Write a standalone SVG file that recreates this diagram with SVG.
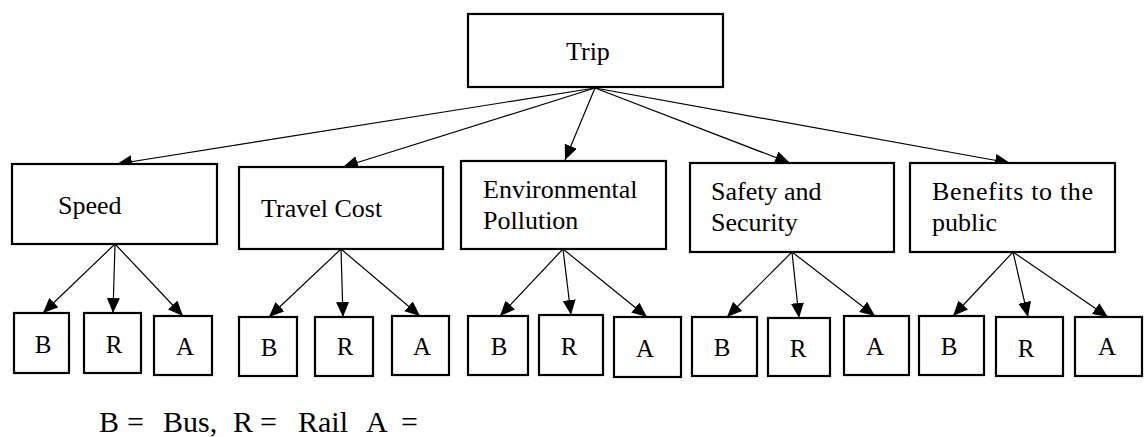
<svg xmlns="http://www.w3.org/2000/svg" width="1144" height="437" viewBox="0 0 1144 437">
<defs>
<style>
.box{fill:#fff;stroke:#000;stroke-width:2.2}
text{font-family:"Liberation Serif","Times New Roman",serif;fill:#000}
.lbl{font-size:26px}
.sm{font-size:25px;text-anchor:middle}
.leg{font-size:30px}
.con line{stroke:#000;stroke-width:1.2;marker-end:url(#ah)}
</style>
<marker id="ah" markerUnits="userSpaceOnUse" markerWidth="16" markerHeight="14" refX="15" refY="6.5" orient="auto">
<path d="M0,0 L15,6.5 L0,13 z" fill="#000"/>
</marker>
</defs>
<rect width="1144" height="437" fill="#fff"/>

<g id="connectors" class="con">
<line x1="595" y1="88" x2="117" y2="164"/>
<line x1="595" y1="88" x2="343" y2="167"/>
<line x1="595" y1="88" x2="565" y2="160"/>
<line x1="595" y1="88" x2="790" y2="163"/>
<line x1="595" y1="88" x2="1010" y2="163"/>
<line x1="115" y1="244" x2="43" y2="313"/>
<line x1="115" y1="244" x2="113" y2="313"/>
<line x1="115" y1="244" x2="183" y2="316"/>
<line x1="341" y1="249" x2="269" y2="317"/>
<line x1="341" y1="249" x2="343" y2="317"/>
<line x1="341" y1="249" x2="420" y2="316"/>
<line x1="563" y1="249" x2="500" y2="316"/>
<line x1="563" y1="249" x2="571" y2="315"/>
<line x1="563" y1="249" x2="647" y2="317"/>
<line x1="792" y1="252" x2="727" y2="317"/>
<line x1="792" y1="252" x2="799" y2="318"/>
<line x1="792" y1="252" x2="875" y2="316"/>
<line x1="1013" y1="252" x2="953" y2="316"/>
<line x1="1013" y1="252" x2="1028" y2="317"/>
<line x1="1013" y1="252" x2="1108" y2="317"/>
</g>

<g id="trip"><rect class="box" x="468" y="14" width="255" height="73"/><text class="lbl" x="566" y="60">Trip</text></g>
<g id="speed"><rect class="box" x="12" y="164" width="205" height="80"/><text class="lbl" x="58" y="214">Speed</text></g>
<g id="travel-cost"><rect class="box" x="239" y="167" width="204" height="82"/><text class="lbl" x="261" y="217">Travel Cost</text></g>
<g id="environmental-pollution"><rect class="box" x="461" y="161" width="205" height="88"/><text class="lbl" x="483" y="198">Environmental</text><text class="lbl" x="483" y="229">Pollution</text></g>
<g id="safety-security"><rect class="box" x="690" y="163" width="204" height="89"/><text class="lbl" x="711" y="200">Safety and</text><text class="lbl" x="711" y="231">Security</text></g>
<g id="benefits"><rect class="box" x="910" y="163" width="205" height="89"/><text class="lbl" x="932" y="200" textLength="161" lengthAdjust="spacing">Benefits to the</text><text class="lbl" x="932" y="231">public</text></g>

<g id="speed-b"><rect class="box" x="14" y="313" width="55" height="60"/><text class="sm" x="43" y="353">B</text></g>
<g id="speed-r"><rect class="box" x="84" y="313" width="57" height="60"/><text class="sm" x="114" y="353">R</text></g>
<g id="speed-a"><rect class="box" x="154" y="316" width="58" height="59"/><text class="sm" x="185" y="355">A</text></g>

<g id="travel-b"><rect class="box" x="239" y="317" width="58" height="59"/><text class="sm" x="269" y="356">B</text></g>
<g id="travel-r"><rect class="box" x="315" y="317" width="58" height="59"/><text class="sm" x="345" y="355">R</text></g>
<g id="travel-a"><rect class="box" x="392" y="316" width="57" height="59"/><text class="sm" x="422" y="355">A</text></g>

<g id="env-b"><rect class="box" x="468" y="316" width="60" height="59"/><text class="sm" x="499" y="355">B</text></g>
<g id="env-r"><rect class="box" x="539" y="315" width="64" height="60"/><text class="sm" x="569" y="355">R</text></g>
<g id="env-a"><rect class="box" x="614" y="317" width="67" height="60"/><text class="sm" x="645" y="357">A</text></g>

<g id="safety-b"><rect class="box" x="692" y="317" width="65" height="59"/><text class="sm" x="722" y="356">B</text></g>
<g id="safety-r"><rect class="box" x="768" y="318" width="62" height="58"/><text class="sm" x="798" y="357">R</text></g>
<g id="safety-a"><rect class="box" x="844" y="316" width="65" height="59"/><text class="sm" x="875" y="355">A</text></g>

<g id="benefits-b"><rect class="box" x="919" y="316" width="65" height="59"/><text class="sm" x="949" y="355">B</text></g>
<g id="benefits-r"><rect class="box" x="996" y="317" width="67" height="59"/><text class="sm" x="1026" y="357">R</text></g>
<g id="benefits-a"><rect class="box" x="1075" y="317" width="67" height="59"/><text class="sm" x="1107" y="355">A</text></g>

<text class="leg" y="432"><tspan x="99">B</tspan><tspan x="127">=</tspan><tspan x="163">Bus,</tspan><tspan x="233">R</tspan><tspan x="260">=</tspan><tspan x="298">Rail</tspan><tspan x="366">A</tspan><tspan x="401">=</tspan></text>
</svg>
